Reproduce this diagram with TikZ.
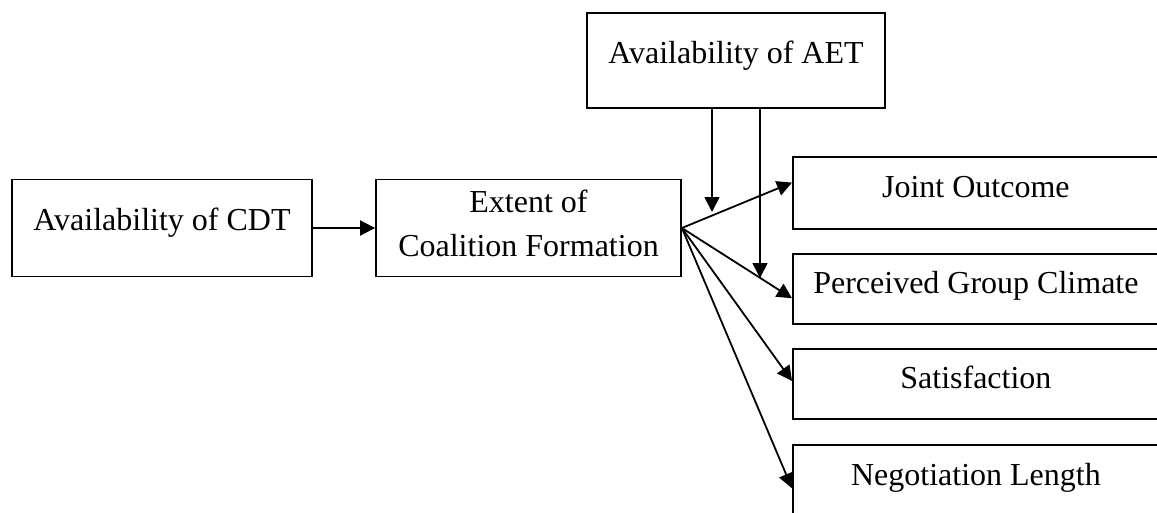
\documentclass[tikz,border=0pt]{standalone}
\usepackage{fontspec}
\setmainfont{Liberation Serif}
\usetikzlibrary{arrows.meta,calc}
\begin{document}
\begin{tikzpicture}[x=1pt,y=-1pt,
  every node/.style={font=\fontsize{32}{44}\selectfont},
  box/.style={draw,line width=1.8pt,inner sep=0pt,align=center},
  outbox/.style={box,anchor=north west,minimum width=366pt},
  link/.style={line width=1.8pt,-{Triangle[length=15pt,width=15pt]}}]
\useasboundingbox (0,0) rectangle (1157,512);
\begin{scope}
\clip (0,0) rectangle (1157,512);
% inputs and mediator
\node[box,minimum width=300pt,minimum height=97pt,text height=22pt,text depth=17pt] (cdt) at (162,228) {Availability of CDT};
\node[box,minimum width=305pt,minimum height=97pt,text depth=10pt] (ext) at (528.5,228) {Extent of\\Coalition Formation};
\node[box,minimum width=298pt,minimum height=95pt,text height=22pt,text depth=17pt] (aet) at (736,60.5) {Availability of AET};
% outcome boxes, running past the right margin
\node[outbox,minimum height=72pt,text height=22pt,text depth=12pt] (joint) at (792,156) {Joint Outcome};
\node[outbox,minimum height=70pt,text height=22pt,text depth=12pt] (climate) at (792,253) {Perceived Group Climate};
\node[outbox,minimum height=70pt,text height=22pt,text depth=12pt] (satis) at (792,348) {Satisfaction};
\node[outbox,minimum height=72pt,text height=22pt,text depth=12pt] (neglen) at (792,444) {Negotiation Length};
% connectors
\draw[link] (cdt.east) -- (ext.west);
\draw[link] (ext.east) -- ($(joint.north west)!0.36!(joint.south west)$);
\draw[link] (ext.east) -- ($(climate.north west)!0.63!(climate.south west)$);
\draw[link] (ext.east) -- ($(satis.north west)!0.46!(satis.south west)$);
\draw[link] (ext.east) -- ($(neglen.north west)!0.6!(neglen.south west)$);
\coordinate (m1) at (712,212);
\coordinate (m2) at (760,278);
\draw[link] (aet.south -| m1) -- (m1);
\draw[link] (aet.south -| m2) -- (m2);
\end{scope}
\end{tikzpicture}
\end{document}
